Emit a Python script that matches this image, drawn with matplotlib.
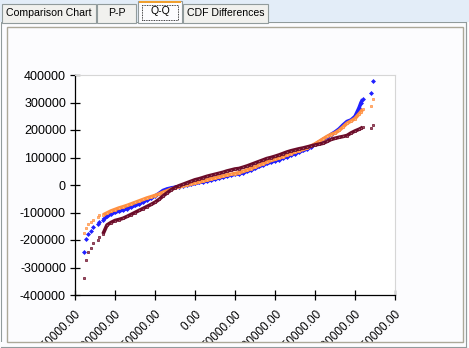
import matplotlib
matplotlib.use("Agg")
import matplotlib.pyplot as plt
from matplotlib.patches import Rectangle
from matplotlib.lines import Line2D

plt.rcParams["font.family"] = ["Liberation Sans", "DejaVu Sans"]
plt.rcParams["axes.unicode_minus"] = False

W, H = 469, 348

# --- data: theoretical quantiles shared by the three samples ---
q = [-138400, -135900, -133400, -130400, -127500, -120900, -119400,
     -115000, -110000, -105000, -100000, -95000, -90000, -85000, -80000,
     -75000, -70000, -65000, -60000, -55000, -50000, -45000, -40000,
     -35000, -30000, -25000, -20000, -15000, -10000, -5000, 0,
     5000, 10000, 15000, 20000, 25000, 30000, 35000, 40000,
     45000, 50000, 55000, 60000, 65000, 70000, 75000, 80000,
     85000, 90000, 95000, 100000, 105000, 110000, 115000, 120000,
     125000, 130000, 135000, 140000, 145000, 150000, 155000, 160000,
     165000, 170000, 175000, 180000, 185000, 190000, 195000, 200000,
     205000, 207500, 209600, 220400, 222900]

y_blue = [-243600, -197500, -178200, -166200, -153800, -140700, -135600,
          -127300, -114500, -105500, -99300, -94500, -90900, -85500, -80000,
          -74500, -69100, -61800, -54500, -47300, -40000, -30900, -20000,
          -14500, -10900, -8400, -5500, -2900, -700, 2500, 5500,
          9100, 12000, 14500, 18200, 21800, 25500, 29100, 32700,
          36400, 38900, 41100, 44700, 49800, 54500, 60700, 67300,
          72700, 78200, 83600, 88000, 92700, 98200, 103600, 109100,
          114500, 120000, 125500, 130900, 138200, 147300, 156400, 165500,
          173500, 183600, 192700, 203600, 218200, 230900, 236400, 249100,
          280000, 299300, 311600, 333500, 378200]

y_orange = [-175600, -155300, -142900, -133500, -127300, -115300, -110000,
            -109100, -101800, -94500, -89100, -83600, -79300, -74500, -69100,
            -63600, -58200, -52700, -47300, -42900, -38200, -32700, -26500,
            -21100, -15300, -10900, -6500, -2900, 700, 4400, 7300,
            10900, 14500, 18200, 21800, 25500, 29100, 32700, 36400,
            38900, 41800, 44700, 49100, 54500, 60000, 65500, 71600,
            77500, 83600, 89100, 93500, 98200, 103600, 109100, 114500,
            120000, 124700, 129100, 134500, 141800, 149100, 158200, 167300,
            176400, 183600, 189100, 198200, 210900, 224400, 232700, 241800,
            258200, 266500, 275300, 287300, 311600]

y_maroon = [-339300, -273800, -243600, -228000, -212000, -200000, -190200,
            -178200, -145500, -136400, -129100, -125500, -121100, -114500, -107300,
            -100000, -92700, -85500, -78200, -70900, -62900, -52700, -40000,
            -29100, -18200, -9100, -2900, 2500, 8000, 13500, 18900,
            22500, 26900, 31600, 35300, 38900, 42500, 46200, 50900,
            54500, 58200, 60000, 64400, 69100, 74500, 80000, 85500,
            90900, 96400, 100000, 104400, 109100, 114500, 120000, 124400,
            128000, 131600, 134500, 138200, 141800, 145500, 148400, 151600,
            158200, 165500, 169800, 173500, 176400, 180000, 189100, 196400,
            202500, 206200, 209800, 208400, 217100]

x_ticks = [-150000, -100000, -50000, 0, 50000, 100000, 150000, 200000, 250000]
y_ticks = [-400000, -300000, -200000, -100000, 0, 100000, 200000, 300000, 400000]
tabs = ["Comparison Chart", "P-P", "Q-Q", "CDF Differences"]
tab_edges = [(2, 96), (97, 136), (138, 182), (183, 268)]
active_tab = 2
dense = slice(7, 74)   # the run of points that sit shoulder to shoulder


def fx(px):
    return px / W


def fy(py):
    return 1 - py / H


def rect(x0, y0, x1, y1, **kw):
    return Rectangle((fx(x0), fy(y1)), (x1 - x0) / W, (y1 - y0) / H,
                     transform=fig.transFigure, **kw)


fig = plt.figure(figsize=(W / 100, H / 100), dpi=100, facecolor="white")

# window chrome
fig.add_artist(rect(0, 0, W, 22, facecolor="#e3edf8", edgecolor="none", zorder=-5))
for i, (name, (x0, x1)) in enumerate(zip(tabs, tab_edges)):
    top = 1 if i == active_tab else 4
    fc = "#fcfcfe" if i == active_tab else "#f1f1ee"
    fig.add_artist(rect(x0, top, x1, 23, facecolor=fc, edgecolor="#919b9c",
                        linewidth=0.8, zorder=-4))
    if i == active_tab:
        fig.add_artist(rect(x0 + 1, top, x1 - 1, top + 2, facecolor="#f0a030",
                            edgecolor="none", zorder=-3))
        fig.add_artist(rect(x0 + 4, top + 4, x1 - 4, 20, facecolor="none",
                            edgecolor="black", linewidth=0.6, linestyle=(0, (1, 1)),
                            zorder=-3))
    fig.text(fx((x0 + x1) / 2), fy(13.5 if i != active_tab else 11.5), name,
             ha="center", va="center", fontsize=7.6, zorder=-2)

fig.add_artist(rect(0.5, 22, 466, 346.5, facecolor="#fcfcfe", edgecolor="#919b9c",
                    linewidth=0.8, zorder=-6))

ax = fig.add_axes([fx(75), fy(295), 320 / W, 220 / H])
ax.set_facecolor("white")

series = [
    (y_blue, "#2020ff", "#2020ff", "D", 3),
    (y_orange, "#ff9040", "#ffb37a", "s", 4),
    (y_maroon, "#6a0a28", "#9a5566", "s", 5),
]
for ys, edge, face, mk, z in series:
    ax.plot(q[dense], ys[dense], color=edge, linewidth=2.6,
            solid_capstyle="butt", zorder=z)
    ax.plot(q, ys, linestyle="none", marker=mk, markersize=2.0,
            markerfacecolor=face, markeredgecolor=edge,
            markeredgewidth=0.5, zorder=z)

ax.set_xlim(-150000, 250000)
ax.set_ylim(-400000, 400000)
ax.set_xticks(x_ticks)
ax.set_xticklabels([f"{v:.2f}" for v in x_ticks], rotation=45,
                   ha="right", va="top", rotation_mode="anchor", fontsize=8.5)
ax.set_yticks(y_ticks)
ax.set_yticklabels([str(v) for v in y_ticks], fontsize=9)
ax.tick_params(direction="inout", length=7, width=0.9, color="black", pad=3)
ax.tick_params(axis="x", pad=6)

for side in ("top", "right"):
    ax.spines[side].set_color("#d6d6d6")
for side in ("left", "bottom"):
    ax.spines[side].set_color("black")
    ax.spines[side].set_linewidth(0.9)

# inner panel frame, clipping the rotated labels at the bottom
fig.add_artist(rect(0, 342, W, H, facecolor="#fcfcfe", edgecolor="none", zorder=10))
fig.add_artist(rect(7, 27, 463, 342, facecolor="none", edgecolor="#aca899",
                    linewidth=1.0, zorder=11))
fig.add_artist(Line2D([fx(0.5), fx(466)], [fy(346.5), fy(346.5)],
                      transform=fig.transFigure, color="#919b9c", linewidth=0.8,
                      zorder=11))
fig.add_artist(Line2D([fx(466), fx(466)], [fy(22), fy(346.5)],
                      transform=fig.transFigure, color="#919b9c", linewidth=0.8,
                      zorder=11))

fig.savefig("out.png", dpi=100, facecolor=fig.get_facecolor())
